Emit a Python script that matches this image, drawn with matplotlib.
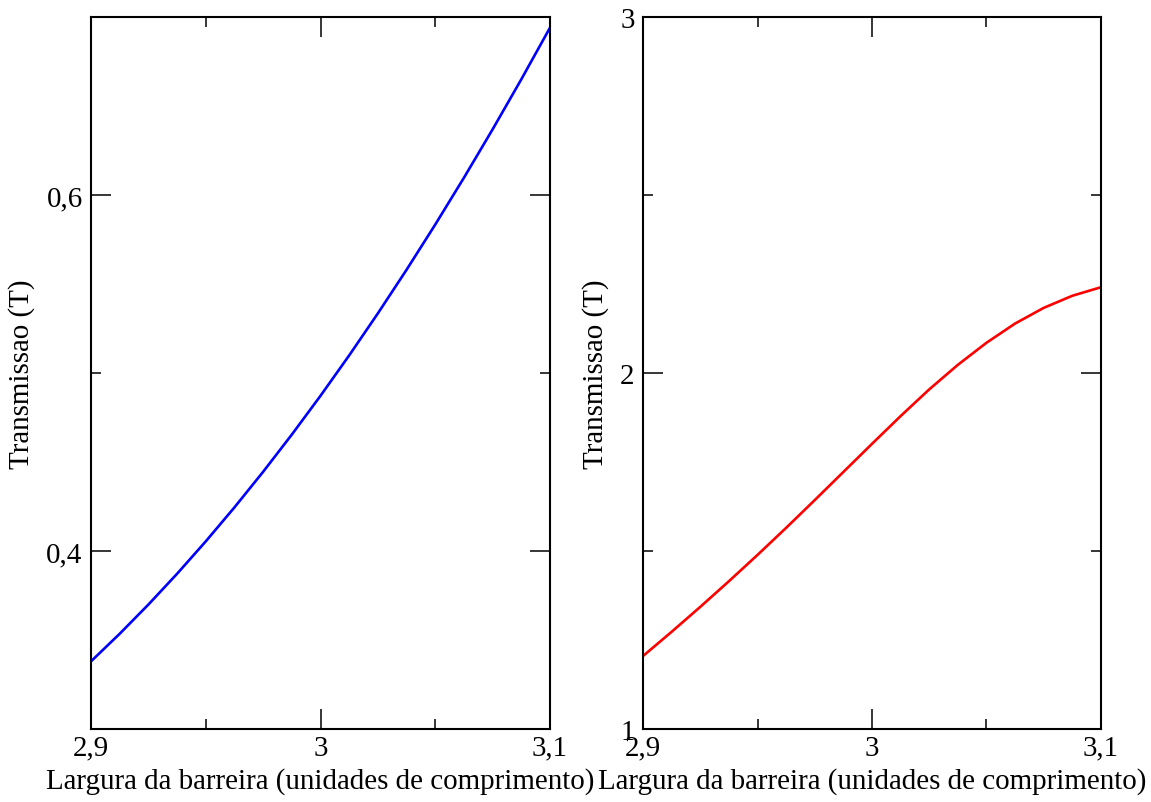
import matplotlib
matplotlib.use("Agg")
import matplotlib.pyplot as plt

# barrier width (length units)
largura = [2.9, 2.9125, 2.925, 2.9375, 2.95, 2.9625, 2.975, 2.9875, 3.0,
           3.0125, 3.025, 3.0375, 3.05, 3.0625, 3.075, 3.0875, 3.1]

# transmission, left panel
trans_a = [0.338, 0.3535, 0.3699, 0.3872, 0.4054, 0.4245, 0.4445, 0.4654, 0.4872,
           0.5099, 0.5335, 0.5580, 0.5834, 0.6097, 0.6369, 0.6650, 0.6940]

# transmission, right panel
trans_b = [1.205, 1.273, 1.343, 1.415, 1.489, 1.565, 1.643, 1.722, 1.801,
           1.879, 1.954, 2.023, 2.085, 2.139, 2.183, 2.217, 2.241]

xticks = [2.9, 3.0, 3.1]
xtick_labels = ["2,9", "3", "3,1"]
xminor = [2.95, 3.05]

yticks_a = [0.4, 0.6]
ytick_labels_a = ["0,4", "0,6"]
yminor_a = [0.3, 0.5, 0.7]

yticks_b = [1, 2, 3]
ytick_labels_b = ["1", "2", "3"]
yminor_b = [1.5, 2.5]

plt.rcParams['font.family'] = ['Liberation Serif', 'DejaVu Serif']
plt.rcParams['font.size'] = 20.9

fig = plt.figure(figsize=(11.51, 8.03), dpi=100)
ax1 = fig.add_axes([91 / 1151, 73 / 803, 459 / 1151, 712 / 803])
ax2 = fig.add_axes([643 / 1151, 73 / 803, 458 / 1151, 712 / 803])

panels = [
    (ax1, trans_a, 'blue', (0.3, 0.7), yticks_a, ytick_labels_a, yminor_a),
    (ax2, trans_b, 'red', (1, 3), yticks_b, ytick_labels_b, yminor_b),
]

for ax, ys, cor, ylim, yt, ytl, ymin in panels:
    ax.plot(largura, ys, color=cor, lw=1.9)
    ax.set_xlim(2.9, 3.1)
    ax.set_ylim(*ylim)
    ax.set_xticks(xticks)
    ax.set_xticklabels(xtick_labels)
    ax.set_xticks(xminor, minor=True)
    ax.set_yticks(yt)
    ax.set_yticklabels(ytl)
    ax.set_yticks(ymin, minor=True)
    ax.tick_params(which='both', direction='in', top=True, right=True, width=1.1)
    ax.tick_params(which='major', length=14.4)
    ax.tick_params(which='minor', length=7.2)
    ax.tick_params(axis='x', pad=4)
    ax.tick_params(axis='y', pad=6)
    for s in ax.spines.values():
        s.set_linewidth(1.5)
    ax.set_xlabel("Largura da barreira (unidades de comprimento)", labelpad=5)
    ax.set_ylabel("Transmissao (T)", labelpad=8)

fig.savefig("out.png", dpi=100)
